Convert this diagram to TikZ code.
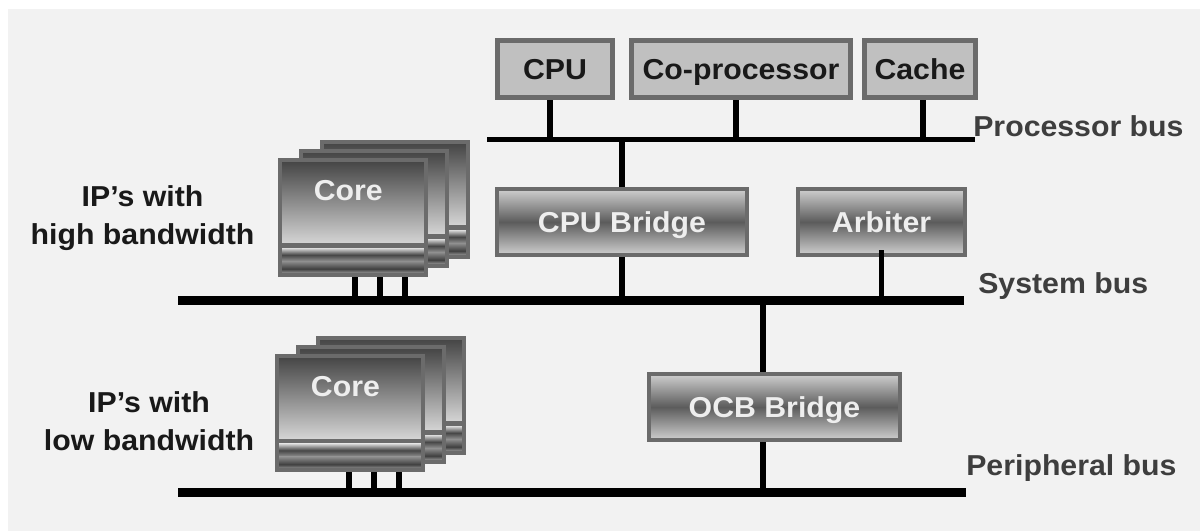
\documentclass[tikz,border=0pt]{standalone}
\usepackage{fontspec}
\setmainfont{Liberation Sans}[FakeStretch=1.05]
\usetikzlibrary{calc,positioning}

\definecolor{bggray}{HTML}{F2F2F2}
\definecolor{edgegray}{HTML}{6B6B6B}
\definecolor{plaingray}{HTML}{C0C0C0}
\definecolor{shadelight}{HTML}{CFCFCF}
\definecolor{shadedark}{HTML}{5C5C5C}
\definecolor{coredark}{HTML}{444444}
\definecolor{corelight}{HTML}{D4D4D4}
\definecolor{labelgray}{HTML}{3E3E3E}
\definecolor{boxtext}{HTML}{EEEEEE}

\begin{document}
\begin{tikzpicture}[x=0.025cm,y=-0.025cm,font=\fontsize{20.5}{26.4}\selectfont\bfseries]
    \tikzstyle{plain}=[draw=edgegray, line width=3.5pt, fill=plaingray, minimum height=1.425cm, inner sep=0pt, text height=14.7pt, text depth=0pt, text=black!90]
    \tikzstyle{bridge}=[draw=edgegray, line width=3pt, top color=shadelight, bottom color=shadelight, middle color=shadedark, minimum height=1.645cm, inner sep=0pt, text height=14.7pt, text depth=0pt, text=boxtext]
    \tikzstyle{core}=[draw=edgegray, line width=3pt, minimum width=3.645cm, minimum height=2.857cm, inner sep=0pt,
      path picture={
        \coordinate (pnw) at (path picture bounding box.north west);
        \coordinate (pne) at (path picture bounding box.north east);
        \shade[top color=coredark, bottom color=corelight] (pnw) rectangle ($(pne)+(0,83)$);
        \fill[edgegray] ($(pnw)+(0,83)$) rectangle ($(pne)+(0,88)$);
        \shade[top color=corelight, bottom color=gray!85, middle color=gray!55!black] ($(pnw)+(0,88)$) rectangle ($(pne)+(0,101)$);
        \shade[top color=gray!90, bottom color=corelight, middle color=gray!50!black] ($(pnw)+(0,101)$) rectangle ($(pne)+(0,116)$);
      }]
    \tikzstyle{coretxt}=[anchor=base, inner sep=0pt, text=boxtext]
    \tikzstyle{bus}=[line width=6.4pt]
    \tikzstyle{tap}=[line width=3.6pt]
    \tikzstyle{busname}=[anchor=base west, inner sep=0pt, text=labelgray]
    \tikzstyle{ipname}=[align=center, anchor=base, inner sep=0pt, text=black!90]

    \useasboundingbox (0,0) rectangle (1200,531);
    \fill[white] (0,0) rectangle (1200,531);
    \fill[bggray] (8,9) rectangle (1200,531);

    % processor side
    \node[plain, minimum width=2.875cm] (cpu) at (555,69) {CPU};
    \node[plain, minimum width=5.475cm, right=0.35cm of cpu] (cop) {Co-processor};
    \node[plain, minimum width=2.775cm, right=0.225cm of cop] (cache) {Cache};

    \coordinate (pbL) at (487,139.5);
    \coordinate (pbR) at (975,139.5);
    \draw[tap] (pbL) -- (pbR);
    \foreach \x/\n in {550/cpu,736/cop,923/cache}
      \draw[tap] (\x,139.5) -- (\x,139.5 |- \n.south);
    \node[busname] (pblabel) at ($(pbR)+(-2,-2.5)$) {Processor bus};

    % system bus
    \node[bridge, minimum width=6.245cm] (cpubr) at (622,222) {CPU Bridge};
    \node[bridge, minimum width=4.17cm] (arb) at (881.5,222) {Arbiter};

    \coordinate (sbL) at (178,300.5);
    \coordinate (sbR) at (964,300.5);
    \draw[tap] (cpubr.north |- pbL) -- (cpubr.north);
    \draw[tap] (cpubr.south) -- (cpubr.south |- sbL);
    \draw[tap] ($(arb.south)+(0,-7)$) -- (arb.south |- sbL);
    \draw[bus] (sbL) -- (sbR);
    \node[busname] (sblabel) at ($(sbR)+(14,-7.5)$) {System bus};

    % peripheral bus
    \node[bridge, minimum width=6.27cm] (ocb) at (774.5,407) {OCB Bridge};
    \coordinate (tocb) at (763,300.5);
    \coordinate (peL) at (178,492);
    \coordinate (peR) at (966,492);
    \draw[tap] (tocb) -- (tocb |- ocb.north);
    \draw[tap] (ocb.south -| tocb) -- (tocb |- peL);
    \draw[bus] (peL) -- (peR);
    \node[busname] (pelabel) at ($(peR)+(0,-17)$) {Peripheral bus};

    % high bandwidth cores
    \node[core] (coreH3) at (395,199.5) {};
    \node[core] (coreH2) at (374,208.5) {};
    \node[core] (coreH) at (353.3,217.5) {};
    \node[coretxt] (coreHt) at ($(coreH.north)+(-5,42.7)$) {Core};
    \foreach \x in {355,380,405}
      \draw[tap] (\x,300.5) -- (\x,300.5 |- coreH.south);
    \node[ipname] (iphigh) at (142.5,244) {IP’s with\\high bandwidth};

    % low bandwidth cores
    \node[core] (coreL3) at (391,395.5) {};
    \node[core] (coreL2) at (371,404.5) {};
    \node[core] (coreL) at (350,413) {};
    \node[coretxt] (coreLt) at ($(coreL.north)+(-4.6,42.7)$) {Core};
    \foreach \x in {349,374,399}
      \draw[tap] (\x,492) -- (\x,492 |- coreL.south);
    \node[ipname] (iplow) at (149,450) {IP’s with\\low bandwidth};

\end{tikzpicture}
\end{document}
